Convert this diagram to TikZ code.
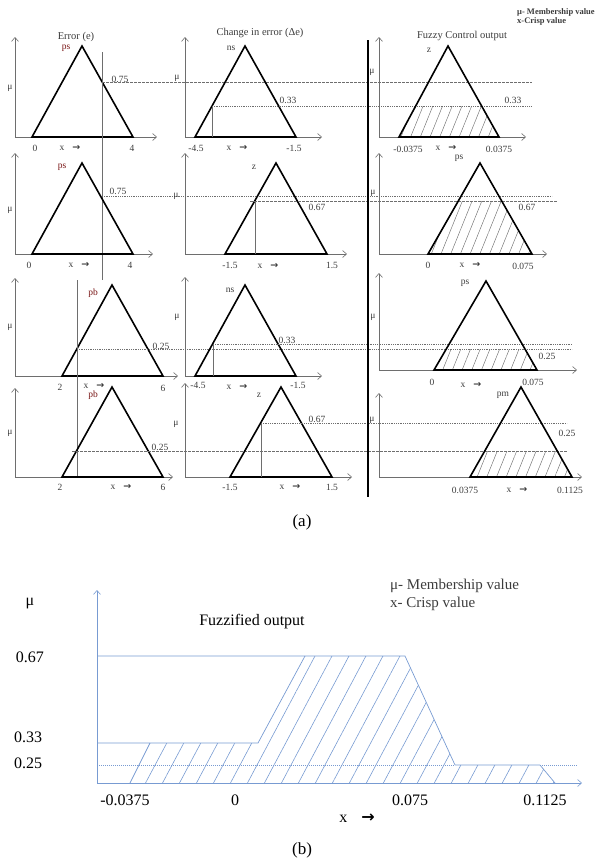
\documentclass[tikz,border=0pt]{standalone}
\usepackage{fontspec}
\setmainfont{Liberation Serif}
\newfontfamily\arrowfont{DejaVu Sans}
\usetikzlibrary{arrows.meta,patterns.meta}
\definecolor{fzgray}{RGB}{110,110,110}
\definecolor{fzred}{RGB}{120,20,20}
\definecolor{fzblue}{RGB}{120,155,210}
\definecolor{fztext}{RGB}{60,60,60}
\tikzset{
    axis/.style={draw=fzgray,line width=0.6pt,-{Straight Barb[length=4pt,width=7pt]}},
    tri/.style={draw=black,line width=1.6pt,line join=miter},
    cut/.style={draw=fzgray,line width=0.5pt,dash pattern=on 2.5pt off 1.5pt},
    dotcut/.style={draw=fzgray,line width=0.5pt,dash pattern=on 1pt off 0.8pt},
    drop/.style={draw=fzgray,line width=0.5pt},
    hatch/.style={pattern={Lines[angle=68,distance=9pt,line width=0.45pt]},pattern color=fzgray},
    bhatch/.style={pattern={Lines[angle=62,distance=15pt,line width=0.6pt]},pattern color=fzblue},
    lbl/.style={font=\fontsize{9.5}{10}\selectfont,text=fztext,inner sep=0.5pt},
    term/.style={lbl,text=fzred},
    head/.style={font=\fontsize{10.5}{11}\selectfont,text=fztext,inner sep=0.5pt},
    big/.style={font=\fontsize{16}{17}\selectfont,text=black,inner sep=0.5pt},
    caption/.style={font=\fontsize{17}{18}\selectfont,text=black,inner sep=0.5pt}
}

\begin{document}
\begin{tikzpicture}[x=1pt,y=-1pt]
\useasboundingbox (0,0) rectangle (603,865);

% (a) row 1
\draw[axis] (15,137) -- (15,37);
\draw[axis] (15,137) -- (157,137);
\draw[tri] (32,137) -- (82,46) -- (133,137) -- cycle;
\draw[drop] (102,52) -- (102,280);
\draw[cut] (102,82) -- (532,82);
\node[head] (err) at (76,37) {Error (e)};
\node[term] (err1) at (66,48) {ps};
\node[lbl] (err1v) at (120,79) {0.75};
\node[lbl] (err1mu) at (10,88) {μ};
\node[lbl] (err1l) at (35,148) {0};
\node[lbl] (err1x) at (70,148) {x\hspace{8pt}{\arrowfont\bfseries →}};
\node[lbl] (err1r) at (132,148) {4};

\draw[axis] (185,137) -- (185,37);
\draw[axis] (185,137) -- (322,137);
\draw[tri] (195,137) -- (245,46) -- (296,137) -- cycle;
\draw[drop] (212,106) -- (212,137);
\draw[dotcut] (212,106) -- (532,106);
\node[head] (chg) at (260,33) {Change in error (Δe)};
\node[lbl] (chg1) at (231,48) {ns};
\node[lbl] (chg1v) at (288,100) {0.33};
\node[lbl] (chg1mu) at (177,78) {μ};
\node[lbl] (chg1l) at (196,148) {-4.5};
\node[lbl] (chg1x) at (237,148) {x\hspace{8pt}{\arrowfont\bfseries →}};
\node[lbl] (chg1r) at (294,148) {-1.5};

\draw[axis] (379,137) -- (379,37);
\draw[axis] (379,137) -- (526,137);
\fill[hatch] (399,137) -- (415.7,106) -- (481.6,106) -- (499,137) -- cycle;
\draw[tri] (399,137) -- (448,46) -- (499,137) -- cycle;
\node[head] (out) at (462,36) {Fuzzy Control output};
\node[lbl] (out1) at (429,50) {z};
\node[lbl] (out1v) at (513,100) {0.33};
\node[lbl] (out1mu) at (372,72) {μ};
\node[lbl] (out1l) at (408,149) {-0.0375};
\node[lbl] (out1x) at (446,148) {x\hspace{8pt}{\arrowfont\bfseries →}};
\node[lbl] (out1r) at (499,149) {0.0375};

\node[font=\fontsize{8.5}{9.5}\selectfont\bfseries,text=fztext,align=left,anchor=north west,inner sep=0pt]
    (key) at (517,8) {μ- Membership value\\x-Crisp value};

% (a) row 2
\draw[axis] (15,254) -- (15,153);
\draw[axis] (15,254) -- (153,254);
\draw[tri] (32,254) -- (82,163) -- (133,254) -- cycle;
\draw[dotcut] (102,196) -- (552,196);
\node[term] (err2) at (62,167) {ps};
\node[lbl] (err2v) at (118,191) {0.75};
\node[lbl] (err2mu) at (10,210) {μ};
\node[lbl] (err2l) at (29,265) {0};
\node[lbl] (err2x) at (79,265) {x\hspace{8pt}{\arrowfont\bfseries →}};
\node[lbl] (err2r) at (130,265) {4};

\draw[axis] (185,254) -- (185,153);
\draw[axis] (185,254) -- (347,254);
\draw[tri] (225,254) -- (276,163) -- (327,254) -- cycle;
\draw[drop] (255,201) -- (255,254);
\draw[cut] (250,201) -- (557,201);
\node[lbl] (chg2) at (254,167) {z};
\node[lbl] (chg2v) at (317,207) {0.67};
\node[lbl] (chg2mu) at (176,196) {μ};
\node[lbl] (chg2l) at (230,265) {-1.5};
\node[lbl] (chg2x) at (268,266) {x\hspace{8pt}{\arrowfont\bfseries →}};
\node[lbl] (chg2r) at (332,265) {1.5};

\draw[axis] (379,254) -- (379,153);
\draw[axis] (379,254) -- (547,254);
\fill[hatch] (428,254) -- (458.3,201) -- (501.7,201) -- (532,254) -- cycle;
\draw[tri] (428,254) -- (480,163) -- (532,254) -- cycle;
\node[lbl] (out2) at (459,158) {ps};
\node[lbl] (out2v) at (527,207) {0.67};
\node[lbl] (out2mu) at (373,193) {μ};
\node[lbl] (out2l) at (428,265) {0};
\node[lbl] (out2x) at (470,265) {x\hspace{8pt}{\arrowfont\bfseries →}};
\node[lbl] (out2r) at (523,266) {0.075};

% (a) row 3
\draw[axis] (15,376) -- (15,278);
\draw[axis] (15,376) -- (178,376);
\draw[tri] (62,376) -- (112,285) -- (163,376) -- cycle;
\draw[drop] (77,280) -- (77,477);
\draw[dotcut] (77,349) -- (572,349);
\node[term] (err3) at (93,293) {pb};
\node[lbl] (err3v) at (161,346) {0.25};
\node[lbl] (err3mu) at (10,327) {μ};
\node[lbl] (err3l) at (60,387) {2};
\node[lbl] (err3x) at (94,386) {x\hspace{8pt}{\arrowfont\bfseries →}};
\node[lbl] (err3r) at (163,388) {6};

\draw[axis] (185,376) -- (185,277);
\draw[axis] (185,376) -- (322,376);
\draw[tri] (195,376) -- (245,285) -- (296,376) -- cycle;
\draw[drop] (213,344) -- (213,376);
\draw[dotcut] (213,344) -- (572,344);
\node[lbl] (chg3) at (230,290) {ns};
\node[lbl] (chg3v) at (287,340) {0.33};
\node[lbl] (chg3mu) at (177,317) {μ};
\node[lbl] (chg3l) at (198,385) {-4.5};
\node[lbl] (chg3x) at (237,387) {x\hspace{8pt}{\arrowfont\bfseries →}};
\node[lbl] (chg3r) at (298,385) {-1.5};

\draw[axis] (379,370) -- (379,273);
\draw[axis] (379,370) -- (577,370);
\fill[hatch] (434,370) -- (446.3,349) -- (525,349) -- (537,370) -- cycle;
\draw[tri] (434,370) -- (486,281) -- (537,370) -- cycle;
\node[lbl] (out3) at (465,283) {ps};
\node[lbl] (out3v) at (547,356) {0.25};
\node[lbl] (out3mu) at (373,317) {μ};
\node[lbl] (out3l) at (432,382) {0};
\node[lbl] (out3x) at (471,385) {x\hspace{8pt}{\arrowfont\bfseries →}};
\node[lbl] (out3r) at (533,382) {0.075};

% (a) row 4
\draw[axis] (15,477) -- (15,388);
\draw[axis] (15,477) -- (173,477);
\draw[tri] (62,477) -- (112,387) -- (163,477) -- cycle;
\draw[cut] (72,451) -- (567,451);
\node[term] (err4) at (93,395) {pb};
\node[lbl] (err4v) at (160,447) {0.25};
\node[lbl] (err4mu) at (10,433) {μ};
\node[lbl] (err4l) at (60,487) {2};
\node[lbl] (err4x) at (121,487) {x\hspace{8pt}{\arrowfont\bfseries →}};
\node[lbl] (err4r) at (163,487) {6};

\draw[axis] (185,477) -- (185,383);
\draw[axis] (185,477) -- (352,477);
\draw[tri] (230,477) -- (281,387) -- (332,477) -- cycle;
\draw[drop] (261,423) -- (261,477);
\draw[dotcut] (261,423) -- (567,423);
\node[lbl] (chg4) at (259,395) {z};
\node[lbl] (chg4v) at (317,419) {0.67};
\node[lbl] (chg4mu) at (176,424) {μ};
\node[lbl] (chg4l) at (230,487) {-1.5};
\node[lbl] (chg4x) at (290,487) {x\hspace{8pt}{\arrowfont\bfseries →}};
\node[lbl] (chg4r) at (332,487) {1.5};

\draw[axis] (379,477) -- (379,393);
\draw[axis] (379,477) -- (582,477);
\fill[hatch] (470,477) -- (484.7,451) -- (557.3,451) -- (572,477) -- cycle;
\draw[tri] (470,477) -- (521,387) -- (572,477) -- cycle;
\node[lbl] (out4) at (503,395) {pm};
\node[lbl] (out4v) at (567,433) {0.25};
\node[lbl] (out4mu) at (372,420) {μ};
\node[lbl] (out4l) at (465,490) {0.0375};
\node[lbl] (out4x) at (517,490) {x\hspace{8pt}{\arrowfont\bfseries →}};
\node[lbl] (out4r) at (570,490) {0.1125};

\draw[line width=1.4pt] (368,40) -- (368,497);
\node[caption] (capa) at (302,522) {(a)};

% (b)
\draw[axis,draw=fzblue] (97,783) -- (97,590);
\draw[axis,draw=fzblue] (97,783) -- (582,783);
\fill[bhatch] (130,783) -- (150,743) -- (258,743) -- (305,656) -- (405,656)
    -- (455,765) -- (540,765) -- (555,783) -- cycle;
\draw[fzblue,line width=0.7pt] (97,656) -- (405,656) -- (455,765);
\draw[fzblue,line width=0.7pt] (97,743) -- (258,743) -- (305,656);
\draw[fzblue,line width=0.7pt] (130,783) -- (150,743);
\draw[fzblue,line width=0.7pt,dash pattern=on 1pt off 1pt] (97,765) -- (455,765);
\draw[fzblue,line width=0.7pt] (455,765) -- (540,765) -- (555,783);
\draw[fzblue,line width=0.7pt,dash pattern=on 1pt off 1pt] (540,765) -- (578,765);
\node[big] (bmu) at (30,604) {μ};
\node[big] (b67) at (30,657) {0.67};
\node[big] (b33) at (28,737) {0.33};
\node[big] (b25) at (28,763) {0.25};
\node[big] (bl) at (125,800) {-0.0375};
\node[big] (b0) at (235,800) {0};
\node[big] (bm) at (410,800) {0.075};
\node[big] (br) at (545,800) {0.1125};
\node[big] (bx) at (357,818) {x\hspace{14pt}{\arrowfont\bfseries →}};
\node[big] (fuz) at (252,622) {Fuzzified output};
\node[font=\fontsize{15}{18}\selectfont,text=fztext,align=left,anchor=north west,inner sep=0pt]
    (bkey) at (390,579) {μ- Membership value\\x- Crisp  value};
\node[caption] (capb) at (302,850) {(b)};
\end{tikzpicture}
\end{document}
